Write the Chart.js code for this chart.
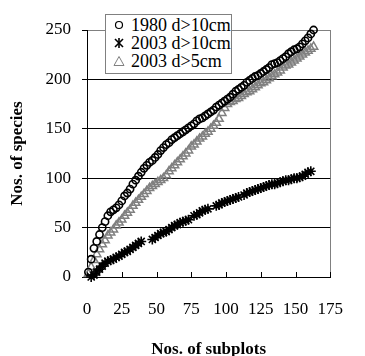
<!DOCTYPE html>
<html>
<head>
<meta charset="utf-8">
<script src="https://cdn.jsdelivr.net/npm/chart.js@4.4.1/dist/chart.umd.min.js"></script>
<style>
html,body{margin:0;padding:0;background:#fff;}
#wrap{position:relative;width:365px;height:356px;}
#legend{position:absolute;left:105px;top:14px;width:127px;height:60px;border:1px solid #808080;background:#fff;
  font:18px 'Liberation Serif','Times New Roman',serif;color:#000;box-sizing:border-box;padding-top:1px;}
#legend .row{height:18px;line-height:18px;white-space:nowrap;display:flex;align-items:center;}
#legend svg{width:14px;height:14px;margin-left:6px;margin-right:5px;flex:none;}
</style>
</head>
<body>
<div id="wrap">
  <canvas id="c" width="365" height="356"></canvas>
  <div id="legend"></div>
</div>
<script>
/* species accumulation curves */
const subplots=[1,3,5,7,9,11,13,15,17,19,21,23,25,27,29,31,33,35,37,39,41,43,45,47,49,51,53,55,57,59,
  61,63,65,67,69,71,73,75,77,79,81,83,85,87,89,91,93,95,97,99,101,103,105,107,109,111,113,115,117,119,
  121,123,125,127,129,131,133,135,137,139,141,143,145,147,149,151,153,155,157,159,161,163];
const seriesLabels=['1980 d>10cm','2003 d>10cm','2003 d>5cm'];
const sp1980d10=[5,18,29,36,43,50,56,62,66,68,70,73,77,82,85,89,94,98,102,106,
  110,113,116,118,121,124,128,131,134,136,139,141,143,145,147,149,151,153,155,158,
  160,161,163,165,167,169,172,174,176,178,180,182,185,188,190,192,194,197,199,201,
  203,204,206,208,210,212,215,216,217,219,221,223,226,228,230,231,233,236,239,242,246,250];
const sp2003d10=[null,0,2,5,8,11,14,16,17,18,20,21,23,25,26,28,30,32,34,36,
  null,null,null,38,40,42,44,45,46,48,50,52,53,55,56,57,58,null,62,63,
  65,67,68,69,null,null,72,73,75,76,77,78,79,80,81,null,83,85,86,87,
  88,89,90,91,92,93,94,94,95,96,97,98,98,99,100,100,101,102,104,106,107,null];
const sp2003d5=[3,10,17,23,28,33,37,42,45,48,52,55,58,62,65,68,72,75,78,81,
  84,87,90,92,94,96,98,100,103,107,110,113,116,119,122,125,128,132,134,137,
  140,142,145,147,150,153,156,160,166,171,175,177,178,180,181,183,185,187,188,190,
  192,194,196,197,199,201,203,205,207,209,212,214,215,217,219,221,223,225,227,229,231,233];
const xTicks=[0,25,50,75,100,125,150,175];
const yTicks=[0,50,100,150,200,250];

const FONT="'Liberation Serif','Times New Roman',serif";
const GRAY='#808080';

function pts(vals){
  const out=[];
  vals.forEach((v,i)=>{ if(v!==null) out.push({x:subplots[i],y:v}); });
  return out;
}

const innerTicks={
  id:'innerTicks',
  beforeDatasetsDraw(chart){
    const x=chart.scales.x,y=chart.scales.y,ctx=chart.ctx;
    ctx.save();ctx.strokeStyle='#000';ctx.lineWidth=1;
    x.ticks.forEach(t=>{
      if(t.value===0) return;
      const px=Math.round(x.getPixelForValue(t.value))+0.5;
      ctx.beginPath();ctx.moveTo(px,y.bottom);ctx.lineTo(px,y.bottom-5);ctx.stroke();
    });
    ctx.restore();
  }
};

const chart=new Chart(document.getElementById('c'),{
  type:'scatter',
  data:{datasets:[
    {label:seriesLabels[0],data:pts(sp1980d10),pointStyle:'circle',radius:3.6,borderColor:'#000',backgroundColor:'rgba(0,0,0,0)',borderWidth:1.6},
    {label:seriesLabels[1],data:pts(sp2003d10),pointStyle:'star',radius:5,borderColor:'#000',backgroundColor:'#000',borderWidth:1.6},
    {label:seriesLabels[2],data:pts(sp2003d5),pointStyle:'triangle',radius:4.8,borderColor:GRAY,backgroundColor:'rgba(0,0,0,0)',borderWidth:1.5}
  ]},
  options:{
    responsive:false,animation:false,clip:false,
    layout:{padding:{left:0,top:30,right:16,bottom:0}},
    plugins:{legend:{display:false},tooltip:{enabled:false}},
    scales:{
      x:{type:'linear',min:0,max:175,
        afterBuildTicks(s){s.ticks=xTicks.map(v=>({value:v}));},
        afterFit(s){s.height=79;},
        border:{display:true,color:'#000',width:1},
        grid:{drawTicks:false,color:c=>c.tick&&c.tick.value===175?GRAY:'rgba(0,0,0,0)'},
        ticks:{color:'#000',padding:22,maxRotation:0,font:{family:FONT,size:17}},
        title:{display:true,text:'Nos. of subplots',color:'#000',font:{family:FONT,size:17,weight:'bold'},padding:{top:0,bottom:-4}}
      },
      y:{type:'linear',min:0,max:250,
        afterBuildTicks(s){s.ticks=yTicks.map(v=>({value:v}));},
        afterFit(s){s.width=87;},
        border:{display:true,color:'#000',width:1},
        grid:{tickLength:5,tickColor:'#000',color:c=>c.tick&&c.tick.value===250?GRAY:'#000'},
        ticks:{color:'#000',padding:11,font:{family:FONT,size:17}},
        title:{display:true,text:'Nos. of species',color:'#000',font:{family:FONT,size:17,weight:'bold'},padding:{top:7,bottom:0}}
      }
    }
  },
  plugins:[innerTicks]
});

// html legend with outlined box, as in the original
const markers=[
  '<svg viewBox="0 0 14 14"><circle cx="7" cy="7" r="3.5" fill="none" stroke="#000" stroke-width="1.2"/></svg>',
  '<svg viewBox="0 0 14 14"><g stroke="#000" stroke-width="1.6"><line x1="3" y1="3" x2="11" y2="11"/><line x1="11" y1="3" x2="3" y2="11"/><line x1="7" y1="2" x2="7" y2="12"/></g></svg>',
  '<svg viewBox="0 0 14 14"><polygon points="7,2.5 12,11.5 2,11.5" fill="none" stroke="'+GRAY+'" stroke-width="1"/></svg>'
];
document.getElementById('legend').innerHTML=seriesLabels.map((l,i)=>
  '<div class="row">'+markers[i]+'<span>'+l.replace('>','&gt;')+'</span></div>').join('');
</script>
</body>
</html>
